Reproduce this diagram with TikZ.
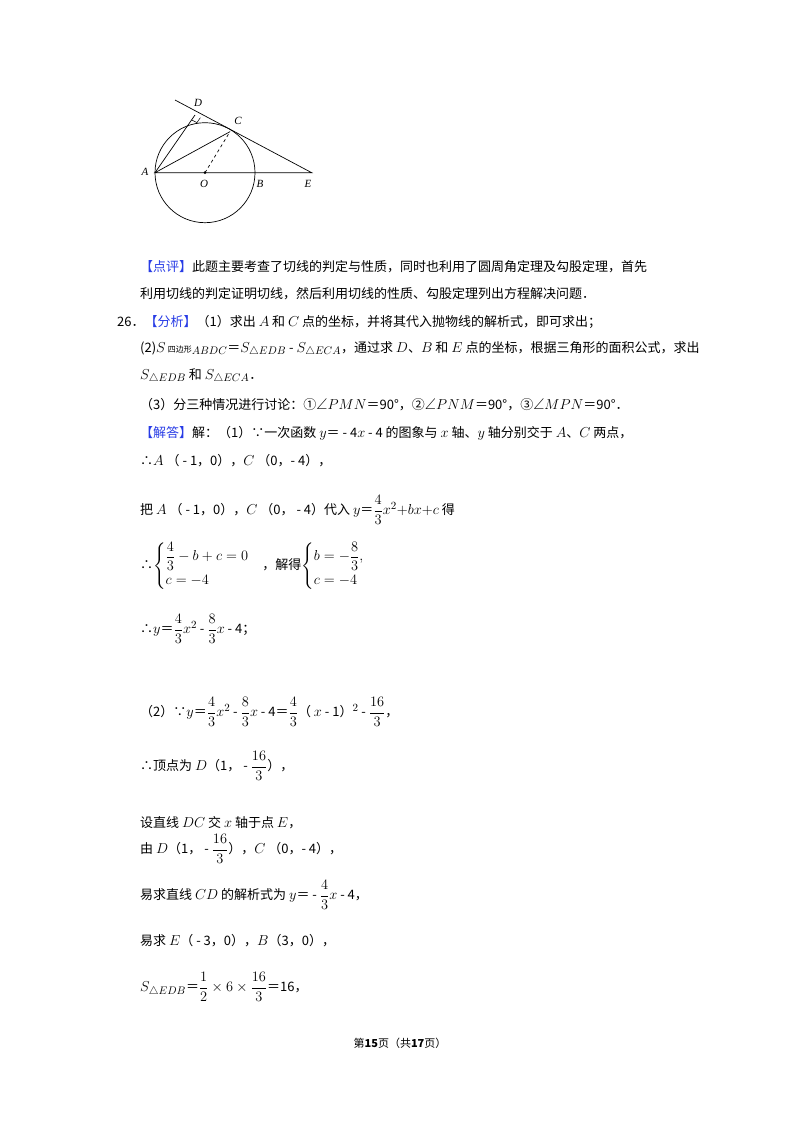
\documentclass[tikz,border=0pt]{standalone}
\usepackage{fontspec}
\usepackage{amsmath,amssymb}
\usetikzlibrary{calc}
\setmainfont{Noto Sans CJK SC}
\newfontfamily\ser{Liberation Serif}
\DeclareMathSizes{13}{15.5}{11}{9}
\definecolor{kblue}{RGB}{40,60,230}
\newcommand{\fr}[2]{\dfrac{#1}{#2}}
\begin{document}
\begin{tikzpicture}[x=1pt,y=-1pt,
  t/.style={anchor=west,inner sep=0pt,font=\fontsize{13}{16}\selectfont},
  lbl/.style={font=\ser\itshape\fontsize{11}{12}\selectfont,inner sep=1pt},
  ln/.style={line width=0.7pt}]
\useasboundingbox (0,0) rectangle (800,1132);
\fill[white] (0,0) rectangle (800,1132);
% figure
\coordinate (O) at (205,172.7);
\coordinate (A) at (155,172.7);
\coordinate (B) at (255,172.7);
\coordinate (C) at (230,131.7);
\coordinate (E) at (311.7,172.7);
\coordinate (D) at (195,115);
\coordinate (L) at (175,100);
\draw[ln] (O) circle (50);
\draw[ln] (L) -- (E) -- (A) -- (C);
\draw[ln] (A) -- (D);
\draw[ln,dashed] (O) -- (C);
\fill (O) circle (1.5);
\coordinate (r1) at ($(D)!6pt!(A)$);
\coordinate (r2) at ($(D)!6pt!(E)$);
\draw[line width=0.5pt] (r1) -- ($(r1)+(r2)-(D)$) -- (r2);
\node[lbl] (lA) at (145,172) {A};
\node[lbl] (lO) at (204,184) {O};
\node[lbl] (lB) at (260,184) {B};
\node[lbl] (lE) at (308,184) {E};
\node[lbl] (lC) at (238,121) {C};
\node[lbl] (lD) at (198,103) {D};
% text
\node[t] (p1) at (140,267) {{\color{kblue}【点评】}此题主要考查了切线的判定与性质，同时也利用了圆周角定理及勾股定理，首先};
\node[t] (p2) at (140,294) {利用切线的判定证明切线，然后利用切线的性质、勾股定理列出方程解决问题．};
\node[t] (p3) at (117,322) {26．{\color{kblue}【分析】}（1）求出 $A$ 和 $C$ 点的坐标，并将其代入抛物线的解析式，即可求出；};
\node[t] (p4) at (140,349) {(2)$S$\,{\fontsize{8}{9}\selectfont 四边形}$_{ABDC}$＝$S_{\triangle EDB}$ - $S_{\triangle ECA}$，通过求 $D$、$B$ 和 $E$ 点的坐标，根据三角形的面积公式，求出};
\node[t] (p5) at (140,376) {$S_{\triangle EDB}$ 和 $S_{\triangle ECA}$．};
\node[t] (p6) at (140,405) {（3）分三种情况进行讨论：①$\angle PMN$＝90°，②$\angle PNM$＝90°，③$\angle MPN$＝90°．};
\node[t] (p7) at (140,433) {{\color{kblue}【解答】}解：（1）∵一次函数 $y$＝ - 4$x$ - 4 的图象与 $x$ 轴、$y$ 轴分别交于 $A$、$C$ 两点，};
\node[t] (p8) at (140,461) {∴$A$ （ - 1，0），$C$ （0，- 4），};
\node[t] (p9) at (140,510) {把 $A$ （ - 1，0），$C$ （0， - 4）代入 $y$＝$\fr{4}{3}x^2{+}bx{+}c$ 得};
\node[t] (p10) at (140,566) {∴$\begin{cases}\fr{4}{3}-b+c=0\\[4pt] c=-4\end{cases}$，解得$\begin{cases}b=-\fr{8}{3},\\[4pt] c=-4\end{cases}$};
\node[t] (p11) at (140,629) {∴$y$＝$\fr{4}{3}x^2$ - $\fr{8}{3}x$ - 4；};
\node[t] (p12) at (140,712) {（2）∵$y$＝$\fr{4}{3}x^2$ - $\fr{8}{3}x$ - 4＝$\fr{4}{3}$（ $x$ - 1）$^2$ - $\fr{16}{3}$，};
\node[t] (p13) at (140,766) {∴顶点为 $D$（1， - $\fr{16}{3}$），};
\node[t] (p14) at (140,823) {设直线 $DC$ 交 $x$ 轴于点 $E$，};
\node[t] (p15) at (140,849) {由 $D$（1， - $\fr{16}{3}$），$C$ （0，- 4），};
\node[t] (p16) at (140,895) {易求直线 $CD$ 的解析式为 $y$＝ - $\fr{4}{3}x$ - 4，};
\node[t] (p17) at (140,941) {易求 $E$（ - 3，0），$B$（3，0），};
\node[t] (p18) at (140,987) {$S_{\triangle EDB}$＝$\fr{1}{2}\times6\times\fr{16}{3}$＝16，};
\node[t,anchor=center,font=\fontsize{11}{13}\selectfont] (foot) at (400,1043) {第\textbf{15}页（共\textbf{17}页）};
\end{tikzpicture}
\end{document}
